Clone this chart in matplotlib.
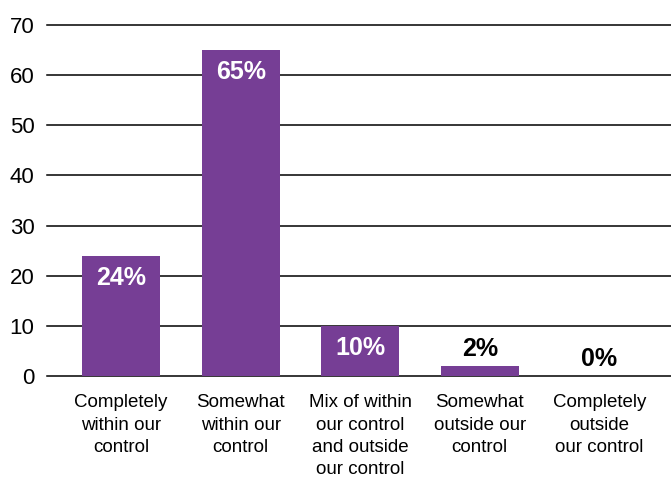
import matplotlib.pyplot as plt

plt.rcParams['font.family'] = ['Liberation Sans', 'DejaVu Sans']

categories = ["Completely\nwithin our\ncontrol", "Somewhat\nwithin our\ncontrol",
              "Mix of within\nour control\nand outside\nour control",
              "Somewhat\noutside our\ncontrol", "Completely\noutside\nour control"]
values = [24, 65, 10, 2, 0]
bar_color = '#763E95'

fig = plt.figure(figsize=(6.71, 4.79), dpi=100)
ax = fig.add_axes([47/671, 1 - 376/479, 624/671, 351/479])

x = range(len(values))
ax.bar(x, values, width=0.65, color=bar_color, zorder=2)

# value labels: white inside tall bars, black above short ones
for i, v in enumerate(values):
    if v >= 10:
        ax.text(i, v - 4.4, f"{v}%", ha='center', va='center', color='white',
                fontsize=18, fontweight='bold', zorder=3)
    else:
        ax.text(i, v + 3.4, f"{v}%", ha='center', va='center', color='black',
                fontsize=18, fontweight='bold', zorder=3)

ax.set_ylim(0, 70)
ax.set_xlim(-0.62, 4.6)
ax.set_yticks(range(0, 71, 10))
ax.yaxis.grid(True, color='black', linewidth=1.1, zorder=1)
ax.set_axisbelow(True)
for s in ax.spines.values():
    s.set_visible(False)
ax.tick_params(axis='both', length=0)
ax.tick_params(axis='y', pad=9, labelsize=16)
ax.tick_params(axis='x', pad=13, labelsize=13.5)
ax.set_xticks(list(x))
ax.set_xticklabels(categories, linespacing=1.42)
for gl in ax.get_ygridlines():
    gl.set_clip_on(False)

fig.savefig('out.png', dpi=100)
